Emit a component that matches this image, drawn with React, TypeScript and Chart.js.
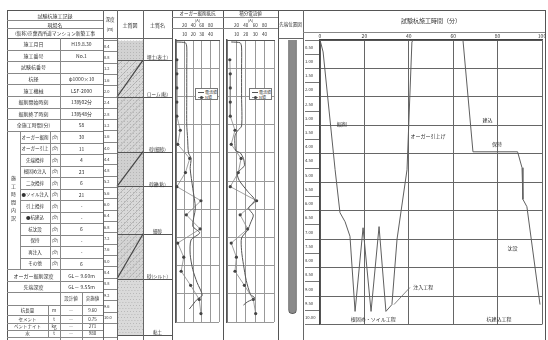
import React, { useEffect, useRef } from 'react';
import { Chart, registerables } from 'chart.js';

Chart.register(...registerables);

const FONT = '"Noto Sans CJK JP", "Noto Sans", sans-serif';

// ---------- table texts ----------
const headerTitles = ['試験杭施工記録', '現場名', '(仮称)京葉西所道マンション新築工事'];
const infoLabels = ['施工月日', '施工番号', '試験杭番号', '杭径', '施工機械', '掘削開始時刻', '掘削終了時刻', '全施工時間(分)'];
const infoValues = ['H19.8.30', 'No.1', '', 'φ1000×10', 'LSF-2000', '13時02分', '13時48分', '58'];
const groupTitle = '施工時間内訳';
const groupLabels = ['オーガー掘削', 'オーガー引上', '先端攪拌', '根固め注入', '二次攪拌', '●ソイル注入', '引上攪拌', '●杭建込', '杭沈設', '保持', '再注入', 'その他'];
const groupUnit = '(分)';
const groupValues = ['30', '11', '4', '23', '6', '21', '-', '-', '6', '-', '-', '6'];
const depthLabels = ['オーガー掘削深度', '先端深度'];
const depthValues = ['GL－ 9.60m', 'GL－ 9.55m'];
const matHeader = ['設計値', '実施値'];
const matLabels = ['杭長量', 'セメント', 'ベントナイト', '水'];
const matUnits = ['m', 't', 'kg', 't'];
const matDesign = ['―', '―', '―', '―'];
const matActual = ['9.60', '0.75', '271', '980'];
const colHeaders = ['深度', '(m)', '土質図', '土質名', '先端位置図'];
const panelTitles = ['オーガー掘削抵抗', '積分電流値'];
const panelUnits = ['(A)', '(A)'];
const legendNames = ['電流値', 'N値'];

// ---------- soil ----------
const soilTop = [0, 0.7, 2.0, 3.93, 5.16, 6.84, 8.42];
const soilBottom = [0.7, 2.0, 3.93, 5.16, 6.84, 8.42, 10.4];
const soilNames = ['埋土(表土)', 'ローム(粘)', '砂(細砂)', '砂礫(粘)', '細砂', '砂(シルト)', '粘土'];
const soilFill = ['#d2d2d2', '#d9d9d9', '#d6d6d6', '#d0d0d0', '#d9d9d9', '#d4d4d4', '#dadada'];
const soilHatch = [false, true, true, false, true, true, false];
const soilDiagonal = [false, true, false, true, false, true, false];

// ---------- panels ----------
const nDepth = [0.7, 1.2, 1.7, 2.2, 2.7, 3.2, 3.7, 4.2, 4.7, 5.2, 5.7, 6.2, 6.7, 7.2, 7.7, 8.2, 8.7, 9.2, 9.7];
const p1N = [1, 1, 1, 1, 1, 5, 2, 16, 11, 1, 29, 12, 28, 2, 9, 6, 17, 27, 29];
const p1CurDepth = [0.07, 0.1, 0.25, 1.0, 2.0, 3.0, 3.5, 4.0, 4.2, 4.56, 5.26, 5.96, 6.6, 6.84, 7.09, 7.6, 8.14, 8.6, 9.05, 9.2, 9.54];
const p1Cur = [2, 22, 25, 25, 25, 25, 27, 29, 35, 33, 39, 45, 39, 55, 35, 33, 39, 49, 61, 49, 31];
const p2N = [3, 3.5, 3.5, 3.5, 3.5, 8.5, 4.5, 15, 12, 3.5, 31.5, 14, 22, 4.5, 10, 8.5, 18.5, 28, 30.5];
const p2CurDepth = [0.07, 0.1, 0.25, 1.0, 2.0, 3.05, 3.23, 3.4, 3.75, 3.93, 4.0, 4.2, 4.46, 4.56, 4.74, 4.98, 5.37, 5.68, 5.96, 6.21, 6.49, 6.74, 7.02, 7.47, 7.96, 8.53, 9.02, 9.15, 9.28, 9.4];
const p2Cur = [9, 28, 31, 31, 31, 31, 22, 17, 17, 19, 28, 35, 37, 31, 22, 26, 44, 59, 46, 56, 50, 44, 31, 31, 35, 41, 50, 59, 44, 35];
const nTicks = [0, 10, 20, 30, 40, 50];
const curTicks = [0, 20, 40, 60, 80, 100];

// ---------- pile ----------
const pileDepth = 9.6;

// ---------- time chart ----------
const timeMin = [0, 1.4, 6.8, 9, 11.3, 13.5, 15.8, 19.4, 23, 26.6, 29.7, 32.4, 34.7, 39.2, 41.4, 42, 64.4, 68.9, 89, 91, 91.4, 93.2, 99.1];
const timeDepth = [0, 0.42, 4.56, 6.07, 6.39, 6.9, 9.54, 6.6, 9.54, 6.56, 9.54, 9.3, 7.0, 4.56, 0.07, 0, 0, 3.93, 3.93, 4.49, 5.6, 5.86, 9.3];
const timeTitle = '試験杭施工時間（分）';
const stepText = ['掘削', 'オーガー引上げ', '建込', '保持', '沈設', '注入工程', '根固め・ソイル工程', '杭建込工程'];
const stepT = [9.8, 48.6, 75.4, 79.7, 86.7, 46.5, 24, 80.6];
const stepD = [2.95, 3.37, 2.8, 3.65, 7.33, 8.67, 9.82, 9.82];
const leaderT = [33.3, 40.5];
const leaderD = [9.3, 8.7];

const soilPlugin = {
  id: 'soilNames',
  afterDatasetsDraw(chart: any) {
    const { ctx, chartArea: a, scales } = chart;
    const y = scales.y;
    const right = chart.width;
    ctx.save();
    // hatch + stipple texture inside layers
    soilTop.forEach((t, i) => {
      const y0 = y.getPixelForValue(t);
      const y1 = y.getPixelForValue(soilBottom[i]);
      ctx.save();
      ctx.beginPath();
      ctx.rect(a.left, y0, a.right - a.left, y1 - y0);
      ctx.clip();
      ctx.fillStyle = '#a6a6a6';
      for (let yy = Math.floor(y0); yy < y1; yy += 3) {
        for (let xx = a.left + ((yy / 3) % 2 ? 1 : 2.5); xx < a.right; xx += 3) ctx.fillRect(xx, yy, 0.8, 0.8);
      }
      if (soilHatch[i]) {
        ctx.strokeStyle = '#a0a0a0';
        ctx.lineWidth = 0.6;
        for (let k = -80; k < 120; k += 7) {
          ctx.beginPath();
          ctx.moveTo(a.left + k, y1);
          ctx.lineTo(a.left + k + (y1 - y0), y0);
          ctx.stroke();
        }
      }
      ctx.restore();
    });
    ctx.strokeStyle = '#555';
    ctx.lineWidth = 1;
    soilBottom.forEach((b) => {
      const py = Math.round(y.getPixelForValue(b)) + 0.5;
      ctx.beginPath();
      ctx.moveTo(a.left, py);
      ctx.lineTo(right, py);
      ctx.stroke();
    });
    ctx.strokeStyle = '#444';
    ctx.lineWidth = 1.2;
    soilDiagonal.forEach((on, i) => {
      if (!on) return;
      ctx.beginPath();
      ctx.moveTo(a.left, y.getPixelForValue(soilBottom[i]));
      ctx.lineTo(a.right, y.getPixelForValue(soilTop[i]));
      ctx.stroke();
    });
    ctx.fillStyle = '#333';
    ctx.font = `4.5px ${FONT}`;
    ctx.textAlign = 'center';
    ctx.textBaseline = 'middle';
    soilNames.forEach((n, i) => {
      ctx.fillText(n, (a.right + right) / 2, y.getPixelForValue(soilBottom[i]) - 2.6);
    });
    ctx.restore();
  },
};

const timePlugin = {
  id: 'timeSteps',
  afterDatasetsDraw(chart: any) {
    const { ctx, scales } = chart;
    const x = scales.x;
    const y = scales.y;
    ctx.save();
    ctx.fillStyle = '#333';
    ctx.font = `5px ${FONT}`;
    ctx.textAlign = 'center';
    ctx.textBaseline = 'middle';
    stepText.forEach((s, i) => {
      ctx.fillText(s, x.getPixelForValue(stepT[i]), y.getPixelForValue(stepD[i]));
    });
    ctx.strokeStyle = '#666';
    ctx.lineWidth = 0.8;
    ctx.beginPath();
    ctx.moveTo(x.getPixelForValue(leaderT[0]), y.getPixelForValue(leaderD[0]));
    ctx.lineTo(x.getPixelForValue(leaderT[1]), y.getPixelForValue(leaderD[1]));
    ctx.stroke();
    ctx.restore();
  },
};

function panelConfig(nVals: number[], curDepth: number[], cur: number[]): any {
  return {
    type: 'scatter',
    data: {
      datasets: [
        {
          label: legendNames[0],
          data: curDepth.map((d, i) => ({ x: cur[i], y: d })),
          xAxisID: 'x2',
          showLine: true,
          borderColor: '#555',
          borderWidth: 1,
          pointRadius: 0,
          tension: 0.25,
        },
        {
          label: legendNames[1],
          data: nDepth.map((d, i) => ({ x: nVals[i], y: d })),
          xAxisID: 'x',
          showLine: true,
          borderColor: '#8a8a8a',
          borderWidth: 0.8,
          pointRadius: 1.6,
          pointBackgroundColor: '#444',
          pointBorderWidth: 0,
          clip: 4,
        },
      ],
    },
    options: {
      responsive: false,
      animation: false,
      devicePixelRatio: 1,
      layout: { padding: { top: 0, bottom: 1, left: 0, right: 0 } },
      plugins: { legend: { display: false }, tooltip: { enabled: false } },
      scales: {
        x: {
          type: 'linear',
          position: 'top',
          min: nTicks[0],
          max: nTicks[nTicks.length - 1],
          weight: 0,
          afterBuildTicks: (s: any) => { s.ticks = nTicks.map((v) => ({ value: v })); },
          ticks: {
            font: { size: 4.5 },
            padding: 3.3,
            maxRotation: 0,
            autoSkip: false,
            color: '#333',
            callback: (v: any) => (v > nTicks[0] && v < nTicks[nTicks.length - 1] ? String(v) : ''),
          },
          grid: { color: '#999', drawTicks: false },
          border: { color: '#555' },
          afterFit: (s: any) => { s.height = 12; },
        },
        x2: {
          type: 'linear',
          position: 'top',
          min: curTicks[0],
          max: curTicks[curTicks.length - 1],
          weight: 1,
          afterBuildTicks: (s: any) => { s.ticks = curTicks.map((v) => ({ value: v })); },
          ticks: {
            font: { size: 4.5 },
            padding: 0.3,
            maxRotation: 0,
            autoSkip: false,
            color: '#333',
            callback: (v: any) => (v > curTicks[0] && v < curTicks[curTicks.length - 1] ? String(v) : ''),
          },
          grid: { display: false, drawTicks: false },
          border: { display: false },
          afterFit: (s: any) => { s.height = 6; },
        },
        y: {
          type: 'linear',
          reverse: true,
          min: 0,
          max: 10,
          ticks: { display: false, stepSize: 1 },
          grid: { color: '#999', drawTicks: false },
          border: { color: '#555', width: 1.5 },
          afterFit: (s: any) => { s.width = 0; },
        },
      },
    },
  };
}

type Ln = [number, number, number, number, string?];

export default function App() {
  const soilRef = useRef<HTMLCanvasElement>(null);
  const p1Ref = useRef<HTMLCanvasElement>(null);
  const p2Ref = useRef<HTMLCanvasElement>(null);
  const rodRef = useRef<HTMLCanvasElement>(null);
  const timeRef = useRef<HTMLCanvasElement>(null);

  useEffect(() => {
    Chart.defaults.font.family = FONT;
    Chart.defaults.color = '#333';
    const charts: Chart[] = [];

    if (soilRef.current) {
      charts.push(
        new Chart(soilRef.current, {
          type: 'bar',
          data: {
            labels: [colHeaders[2]],
            datasets: soilTop.map((t, i) => ({
              label: soilNames[i],
              data: [[t, soilBottom[i]]],
              backgroundColor: soilFill[i],
              borderWidth: 0,
              barPercentage: 1,
              categoryPercentage: 1,
              grouped: false,
            })) as any,
          },
          options: {
            responsive: false,
            animation: false,
            devicePixelRatio: 1,
            layout: { padding: { top: 2, bottom: 0.5, left: 1, right: 29 } },
            plugins: { legend: { display: false }, tooltip: { enabled: false } },
            scales: {
              x: { display: false },
              y: {
                type: 'linear',
                reverse: true,
                min: 0,
                max: 10.5,
                ticks: {
                  stepSize: 0.4,
                  autoSkip: false,
                  font: { size: 4 },
                  color: '#333',
                  crossAlign: 'far',
                  labelOffset: 5.7,
                  padding: 0,
                  callback: (v: any) => (v < 10 ? (Number(v) + 0.4).toFixed(1) : ''),
                },
                grid: { color: 'rgba(0,0,0,0)', tickColor: '#888', tickLength: 13 },
                border: { display: false },
                afterFit: (s: any) => { s.width = 13; },
              } as any,
            },
          },
          plugins: [soilPlugin],
        } as any)
      );
    }

    if (p1Ref.current) charts.push(new Chart(p1Ref.current, panelConfig(p1N, p1CurDepth, p1Cur)));
    if (p2Ref.current) charts.push(new Chart(p2Ref.current, panelConfig(p2N, p2CurDepth, p2Cur)));

    if (rodRef.current) {
      charts.push(
        new Chart(rodRef.current, {
          type: 'bar',
          data: {
            labels: ['杭'],
            datasets: [
              {
                data: [[0, pileDepth]] as any,
                backgroundColor: '#8a8a8a',
                borderColor: '#5c5c5c',
                borderWidth: 1,
                borderRadius: 4,
                borderSkipped: 'start',
                barThickness: 8,
              },
            ],
          },
          options: {
            responsive: false,
            animation: false,
            devicePixelRatio: 1,
            layout: { padding: { top: 2, bottom: 3, left: 4, right: 0 } },
            plugins: { legend: { display: false }, tooltip: { enabled: false } },
            scales: {
              x: { display: false },
              y: { display: false, min: 0, max: 10, reverse: true },
            },
          },
        } as any)
      );
    }

    if (timeRef.current) {
      charts.push(
        new Chart(timeRef.current, {
          type: 'scatter',
          data: {
            datasets: [
              {
                data: timeMin.map((t, i) => ({ x: t, y: timeDepth[i] })),
                showLine: true,
                borderColor: '#5f5f5f',
                borderWidth: 1,
                pointRadius: 0,
              },
            ],
          },
          options: {
            responsive: false,
            animation: false,
            devicePixelRatio: 1,
            layout: { padding: { top: 0, bottom: 2, left: 2, right: 6 } },
            plugins: { legend: { display: false }, tooltip: { enabled: false } },
            scales: {
              x: {
                type: 'linear',
                position: 'top',
                min: 0,
                max: 100,
                ticks: { stepSize: 20, font: { size: 5 }, padding: 1, maxRotation: 0, autoSkip: false, color: '#333' },
                grid: { color: '#666', drawTicks: false },
                border: { color: '#444', width: 1.5 },
                title: { display: true, text: timeTitle, font: { size: 6 }, color: '#333', padding: { top: 7.4, bottom: 0 } },
                afterFit: (s: any) => { s.height = 30; },
              },
              y: {
                type: 'linear',
                reverse: true,
                min: 0,
                max: 10,
                ticks: {
                  stepSize: 0.5,
                  autoSkip: false,
                  font: { size: 4.2 },
                  color: '#333',
                  crossAlign: 'far',
                  labelOffset: 7.1,
                  padding: 0,
                  callback: (v: any) => (v < 10 ? (Number(v) + 0.5).toFixed(2) : ''),
                },
                grid: {
                  color: (c: any) => (c.tick && Number.isInteger(c.tick.value) ? '#666' : 'rgba(0,0,0,0)'),
                  tickColor: '#777',
                  tickLength: 15,
                },
                border: { color: '#444', width: 1.5 },
                afterFit: (s: any) => { s.width = 15; },
              } as any,
            },
          },
          plugins: [timePlugin],
        } as any)
      );
    }

    return () => charts.forEach((c) => c.destroy());
  }, []);

  // ---------- lines ----------
  const lines: Ln[] = [];
  const H = (x1: number, x2: number, y: number, c?: string) => lines.push([x1, y, x2 - x1, 1, c]);
  const V = (x: number, y1: number, y2: number, c?: string) => lines.push([x, y1, 1, y2 - y1, c]);

  H(7, 545, 10, '#555');
  V(7, 10, 340, '#555');
  V(545, 10, 340, '#555');
  [103, 117, 143, 303].forEach((x) => V(x, 10, 340, '#666'));
  [172, 223, 278].forEach((x) => V(x, 10, 340, '#555'));
  H(7, 103, 20);
  H(7, 103, 28);
  H(7, 172, 38, '#666');
  H(278, 303, 38, '#666');
  const infoTop = 38;
  const infoH = 11.6;
  for (let i = 1; i <= infoLabels.length; i++) H(7, 103, Math.round(infoTop + infoH * i));
  const grpTop = Math.round(infoTop + infoH * infoLabels.length);
  const grpH = 11.5;
  for (let j = 1; j < groupLabels.length; j++) H(20, 103, Math.round(grpTop + grpH * j));
  const lowerY = [269, 281, 292, 305, 315, 323, 330, 337];
  lowerY.forEach((y) => H(7, 103, y));
  V(60, 38, 292);
  V(20, grpTop, 269);
  V(50, grpTop, 269);
  V(48, 305, 337);
  V(60, 292, 340);
  V(82, 292, 340);
  H(172, 278, 17);
  H(172, 278, 28);
  H(303, 545, 32);

  const cells: { x: number; y: number; w: number; h: number; t: string; fs?: number }[] = [];
  const C = (x: number, y: number, w: number, h: number, t: string, fs = 5) => cells.push({ x, y, w, h, t, fs });

  C(7, 10, 96, 10, headerTitles[0], 5);
  C(7, 20, 96, 8, headerTitles[1], 5);
  C(7, 28, 96, 10, headerTitles[2], 4.8);
  infoLabels.forEach((t, i) => {
    const y = infoTop + infoH * i;
    C(7, y, 53, infoH, t, 5);
    C(60, y, 43, infoH, infoValues[i], 5);
  });
  groupLabels.forEach((t, j) => {
    const y = grpTop + grpH * j;
    C(20, y, 30, grpH, t, 4.5);
    C(50, y, 10, grpH, groupUnit, 4);
    C(60, y, 43, grpH, groupValues[j], 5);
  });
  depthLabels.forEach((t, i) => {
    C(7, lowerY[i], 53, lowerY[i + 1] - lowerY[i], t, 5);
    C(60, lowerY[i], 43, lowerY[i + 1] - lowerY[i], depthValues[i], 5);
  });
  C(60, 292, 22, 13, matHeader[0], 4.5);
  C(82, 292, 21, 13, matHeader[1], 4.5);
  matLabels.forEach((t, i) => {
    const y = lowerY[3 + i];
    const h = lowerY[4 + i] - y;
    C(7, y, 41, h, t, 4.5);
    C(48, y, 12, h, matUnits[i], 4.5);
    C(60, y, 22, h, matDesign[i], 4.5);
    C(82, y, 21, h, matActual[i], 4.5);
  });
  C(103, 15, 14, 8, colHeaders[0], 4.5);
  C(103, 25, 14, 8, colHeaders[1], 4.5);
  C(117, 19, 26, 10, colHeaders[2], 5);
  C(143, 19, 29, 10, colHeaders[3], 5);
  C(278, 19, 25, 10, colHeaders[4], 4.5);
  C(172, 10, 51, 7, panelTitles[0], 4.5);
  C(223, 10, 55, 7, panelTitles[1], 4.5);
  C(172, 17, 51, 5, panelUnits[0], 4);
  C(223, 17, 55, 5, panelUnits[1], 4);

  const legend = (x: number) => (
    <div
      key={'lg' + x}
      style={{
        position: 'absolute',
        left: x,
        top: 88,
        width: 23,
        height: 12,
        border: '1px solid #777',
        background: '#fff',
        boxSizing: 'border-box',
        fontSize: 4,
        lineHeight: '5px',
        paddingLeft: 1.5,
        paddingTop: 0.5,
        color: '#333',
        zIndex: 3,
      }}
    >
      <div style={{ display: 'flex', alignItems: 'center', height: 5 }}>
        <span style={{ display: 'inline-block', width: 6, height: 1, background: '#555', marginRight: 1.5 }} />
        <span>{legendNames[0]}</span>
      </div>
      <div style={{ display: 'flex', alignItems: 'center', height: 5 }}>
        <span style={{ display: 'inline-block', width: 6, height: 1, background: '#8a8a8a', marginRight: 1.5, position: 'relative' }}>
          <span style={{ position: 'absolute', left: 2, top: -1, width: 3, height: 3, borderRadius: 2, background: '#444' }} />
        </span>
        <span>{legendNames[1]}</span>
      </div>
    </div>
  );

  const cv = (ref: React.RefObject<HTMLCanvasElement>, x: number, y: number, w: number, h: number) => (
    <canvas ref={ref} width={w} height={h} style={{ position: 'absolute', left: x, top: y, width: w, height: h, zIndex: 1 }} />
  );

  return (
    <div
      style={{
        position: 'fixed',
        left: 0,
        top: 0,
        width: 548,
        height: 340,
        background: '#fff',
        overflow: 'hidden',
        fontFamily: FONT,
        color: '#333',
      }}
    >
      {lines.map(([x, y, w, h, c], i) => (
        <div key={'l' + i} style={{ position: 'absolute', left: x, top: y, width: w, height: h, background: c || '#888', zIndex: 2 }} />
      ))}
      {cells.map((c, i) => (
        <div
          key={'c' + i}
          style={{
            position: 'absolute',
            left: c.x,
            top: c.y,
            width: c.w,
            height: c.h,
            display: 'flex',
            alignItems: 'center',
            justifyContent: 'center',
            fontSize: c.fs,
            lineHeight: 1,
            whiteSpace: 'nowrap',
            color: '#333',
            zIndex: 2,
          }}
        >
          {c.t}
        </div>
      ))}
      <div
        style={{
          position: 'absolute',
          left: 7,
          top: grpTop,
          width: 13,
          height: 269 - grpTop,
          display: 'flex',
          alignItems: 'center',
          justifyContent: 'center',
          writingMode: 'vertical-rl',
          fontSize: 5,
          letterSpacing: 3,
          color: '#333',
          zIndex: 2,
        }}
      >
        {groupTitle}
      </div>
      {cv(soilRef, 103, 38, 69, 302)}
      {cv(p1Ref, 172, 22, 51, 304)}
      {cv(p2Ref, 223, 22, 55, 304)}
      {cv(rodRef, 278, 38, 25, 290)}
      {cv(timeRef, 303, 10, 245, 317)}
      {legend(195)}
      {legend(249)}
    </div>
  );
}
